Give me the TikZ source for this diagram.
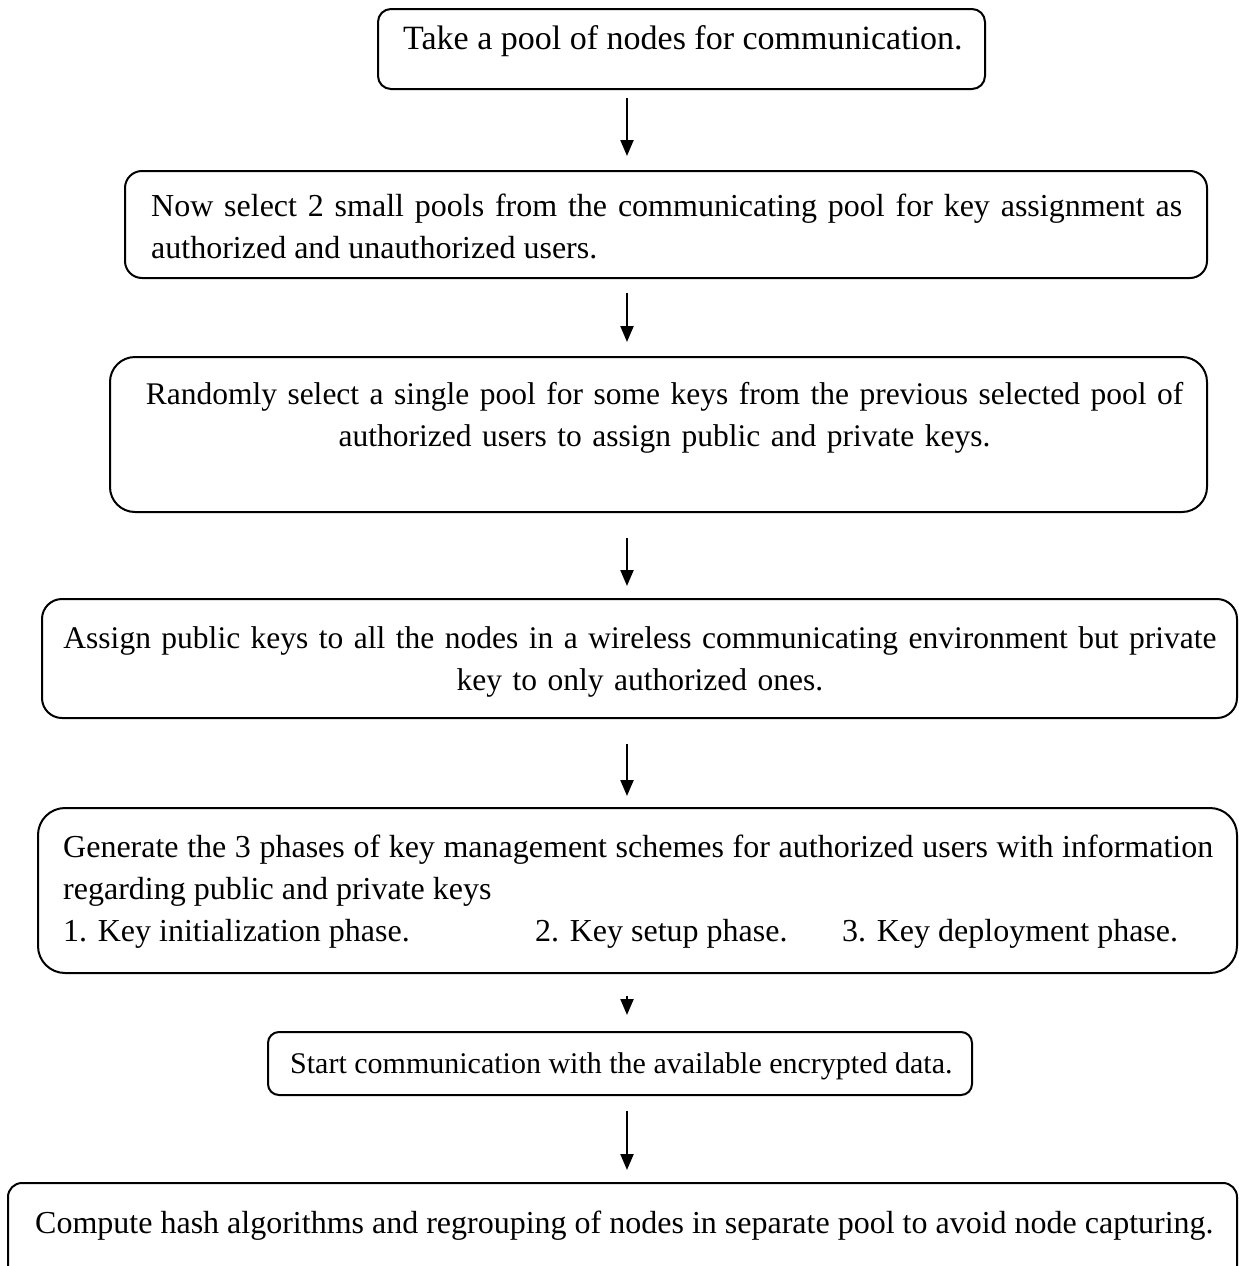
\documentclass[tikz,border=0pt]{standalone}
\usepackage{fontspec}
\setmainfont{Liberation Serif}
\usetikzlibrary{arrows.meta}
\hyphenpenalty=10000
\exhyphenpenalty=10000
\begin{document}
\begin{tikzpicture}[x=1pt,y=-1pt,
  box/.style={draw,line width=2pt,rounded corners=#1,inner sep=0pt},
  txt/.style={inner sep=0pt,font=\fontsize{32}{42}\selectfont},
  arr/.style={line width=2.2pt,-{Triangle[length=16pt,width=13pt]}}]
\path[use as bounding box] (0,0) rectangle (1239,1266);
\clip (0,0) rectangle (1239,1266);
\coordinate (ax) at (627,0);
% boxes
\node[box=13pt,minimum width=607pt,minimum height=80pt] (b1) at (681.5,49) {};
\node[box=17pt,minimum width=1082pt,minimum height=107pt] (b2) at (666,224.5) {};
\node[box=25pt,minimum width=1097pt,minimum height=155pt] (b3) at (658.5,434.5) {};
\node[box=20pt,minimum width=1195pt,minimum height=119pt] (b4) at (639.5,658.5) {};
\node[box=27pt,minimum width=1199pt,minimum height=165pt] (b5) at (637.5,890.5) {};
\node[box=11pt,minimum width=704pt,minimum height=63pt] (b6) at (620,1063.5) {};
\node[box=14pt,minimum width=1229pt,minimum height=117pt] (b7) at (622.5,1241.5) {};
% texts
\node[txt,anchor=base west,font=\fontsize{34}{42}\selectfont] (t1) at (403,49) {Take a pool of nodes for communication.};
\node[txt,anchor=base west,text width=1031pt,align=justify] (t2) at (151,216)
  {Now select 2 small pools from the communicating pool for key assignment as\linebreak authorized and unauthorized users.};
\node[txt,anchor=base,text width=1150pt,align=center,font=\fontsize{31.5}{42}\selectfont] (t3) at (664.5,404)
  {Randomly select a single pool for some keys from the previous selected pool of\\ authorized users to assign public and private keys.};
\node[txt,anchor=base,text width=1200pt,align=center,font=\fontsize{31.5}{42}\selectfont] (t4) at (640,648)
  {Assign public keys to all the nodes in a wireless communicating environment but private\\ key to only authorized ones.};
\node[txt,anchor=base west,text width=1150pt,align=justify] (t5) at (63,857)
  {Generate the 3 phases of key management schemes for authorized users with information\linebreak regarding public and private keys\newline
   \makebox[472pt][l]{1. Key initialization phase.}\makebox[307pt][l]{2. Key setup phase.}3. Key deployment phase.};
\node[txt,anchor=base west,font=\fontsize{30}{42}\selectfont] (t6) at (290,1073) {Start communication with the available encrypted data.};
\node[txt,anchor=base west] (t7) at (35,1233) {Compute hash algorithms and regrouping of nodes in separate pool to avoid node capturing.};
% arrows
\draw[arr,shorten <=8pt,shorten >=14pt] (b1.south -| ax) -- (b2.north -| ax);
\draw[arr,shorten <=14pt,shorten >=14pt] (b2.south -| ax) -- (b3.north -| ax);
\draw[arr,shorten <=25pt,shorten >=12pt] (b3.south -| ax) -- (b4.north -| ax);
\draw[arr,shorten <=25pt,shorten >=11pt] (b4.south -| ax) -- (b5.north -| ax);
\draw[arr,shorten <=22pt,shorten >=16pt] (b5.south -| ax) -- (b6.north -| ax);
\draw[arr,shorten <=15pt,shorten >=12pt] (b6.south -| ax) -- (b7.north -| ax);
\end{tikzpicture}
\end{document}
